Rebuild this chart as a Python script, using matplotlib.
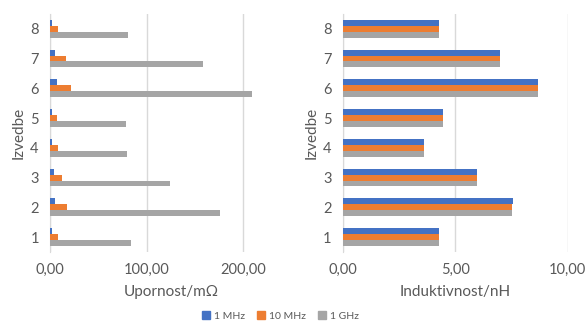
import numpy as np
import matplotlib.pyplot as plt
from matplotlib.patches import Patch

plt.rcParams['font.family'] = ['Lato', 'DejaVu Sans']

# Data
izvedbe = ['1', '2', '3', '4', '5', '6', '7', '8']
series = ['1 MHz', '10 MHz', '1 GHz']
colors = ['#4472C4', '#ED7D31', '#A5A5A5']

upornost_1mhz = [2.4, 4.8, 4.1, 2.4, 2.4, 6.9, 4.8, 2.4]
upornost_10mhz = [8.3, 17.9, 12.7, 8.3, 7.6, 21.3, 16.2, 8.3]
upornost_1ghz = [84.3, 176.0, 124.0, 80.2, 78.5, 208.6, 158.0, 81.2]

induktivnost_1mhz = [4.30, 7.57, 5.96, 3.63, 4.44, 8.68, 7.01, 4.30]
induktivnost_10mhz = [4.30, 7.51, 5.96, 3.63, 4.44, 8.68, 7.01, 4.30]
induktivnost_1ghz = [4.30, 7.54, 5.96, 3.63, 4.44, 8.68, 7.01, 4.30]

text_color = '#595959'
grid_color = '#D9D9D9'

fig = plt.figure(figsize=(5.87, 3.23), dpi=100)
ax1 = fig.add_axes([0.085, 0.22, 0.412, 0.737])
ax2 = fig.add_axes([0.584, 0.22, 0.383, 0.737])

y = np.arange(len(izvedbe))
h = 0.2


def draw(ax, vals, xmax, ticks, xlabel):
    # blue on top, gray at the bottom of each group
    for i, (v, c) in enumerate(zip(vals, colors)):
        ax.barh(y + h - i * h, v, height=h, color=c, zorder=3)
    ax.set_xlim(0, xmax)
    ax.set_ylim(-0.5, len(izvedbe) - 0.5)
    ax.set_xticks(ticks)
    ax.set_xticklabels([f'{t:.2f}'.replace('.', ',') for t in ticks])
    ax.set_yticks(y)
    ax.set_yticklabels(izvedbe)
    ax.grid(axis='x', color=grid_color, lw=1, zorder=0)
    for s in ['top', 'right', 'bottom']:
        ax.spines[s].set_visible(False)
    ax.spines['left'].set_color(grid_color)
    ax.tick_params(length=0, colors=text_color, labelsize=10.5)
    ax.tick_params(axis='x', pad=8)
    ax.tick_params(axis='y', pad=8)
    ax.set_xlabel(xlabel, color=text_color, fontsize=11, labelpad=6)
    ax.set_ylabel('Izvedbe', color=text_color, fontsize=11, labelpad=3)


draw(ax1, [upornost_1mhz, upornost_10mhz, upornost_1ghz], 250, [0, 100, 200], 'Upornost/mΩ')
draw(ax2, [induktivnost_1mhz, induktivnost_10mhz, induktivnost_1ghz], 10, [0, 5, 10], 'Induktivnost/nH')

handles = [Patch(color=c, label=s) for c, s in zip(colors, series)]
leg = fig.legend(handles=handles, loc='center', bbox_to_anchor=(0.478, 0.022), ncol=3,
                 frameon=False, fontsize=7.5, handlelength=0.7, handleheight=0.7,
                 handletextpad=0.4, columnspacing=1.2)
for t in leg.get_texts():
    t.set_color(text_color)

fig.savefig('out.png', dpi=100)
